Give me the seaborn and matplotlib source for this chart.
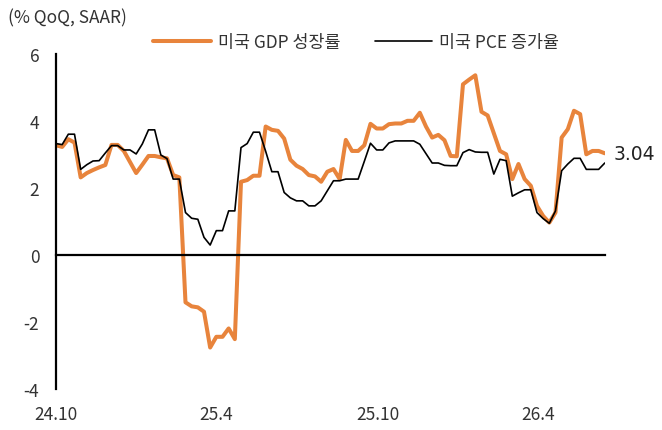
import pandas as pd
import seaborn as sns
import matplotlib.pyplot as plt
import matplotlib.dates as mdates

# 주간 관측치, 2024-10-01 부터 매주
start_date = "2024-10-01"
gdp_growth = [3.28, 3.23, 3.46, 3.36, 2.32, 2.45, 2.54, 2.62, 2.69, 3.29,
              3.29, 3.11, 2.78, 2.45, 2.70, 2.96, 2.96, 2.92, 2.89, 2.39,
              2.32, -1.41, -1.53, -1.56, -1.69, -2.76, -2.44, -2.44, -2.19, -2.51,
              2.19, 2.24, 2.37, 2.37, 3.84, 3.74, 3.71, 3.48, 2.85, 2.67,
              2.57, 2.39, 2.35, 2.19, 2.49, 2.57, 2.27, 3.44, 3.11, 3.11,
              3.28, 3.92, 3.78, 3.78, 3.91, 3.93, 3.93, 4.01, 4.01, 4.25,
              3.84, 3.51, 3.59, 3.43, 2.96, 2.95, 5.10, 5.24, 5.37, 4.28,
              4.17, 3.64, 3.11, 3.01, 2.27, 2.72, 2.27, 2.07, 1.47, 1.17,
              0.97, 1.27, 3.51, 3.76, 4.31, 4.21, 3.01, 3.11, 3.11, 3.04]
pce_growth = [3.33, 3.30, 3.61, 3.61, 2.56, 2.70, 2.81, 2.82, 3.05, 3.27,
              3.27, 3.14, 3.14, 3.02, 3.32, 3.74, 3.74, 2.99, 2.88, 2.27,
              2.27, 1.27, 1.10, 1.07, 0.53, 0.30, 0.73, 0.73, 1.32, 1.32,
              3.21, 3.33, 3.67, 3.67, 3.10, 2.49, 2.49, 1.87, 1.71, 1.62,
              1.62, 1.47, 1.47, 1.62, 1.92, 2.22, 2.22, 2.27, 2.27, 2.27,
              2.80, 3.34, 3.14, 3.14, 3.35, 3.41, 3.41, 3.41, 3.41, 3.31,
              3.03, 2.75, 2.75, 2.68, 2.67, 2.67, 3.06, 3.15, 3.08, 3.07,
              3.07, 2.42, 2.86, 2.82, 1.76, 1.86, 1.95, 1.95, 1.27, 1.09,
              0.95, 1.32, 2.52, 2.72, 2.89, 2.89, 2.56, 2.56, 2.56, 2.75]
series_names = ["미국 GDP 성장률", "미국 PCE 증가율"]
x_tick_dates = ["2024-10-01", "2025-04-01", "2025-10-01", "2026-04-01"]
x_tick_labels = ["24.10", "25.4", "25.10", "26.4"]
y_ticks = [-4, -2, 0, 2, 4, 6]

dates = pd.date_range(start_date, periods=len(gdp_growth), freq="7D")
df = pd.DataFrame({"date": dates, series_names[0]: gdp_growth, series_names[1]: pce_growth})

sns.set_style("white")
plt.rcParams["font.family"] = ["Noto Sans CJK KR", "DejaVu Sans"]
plt.rcParams["axes.unicode_minus"] = False
text_color = "#333333"
fs = 12.5

fig = plt.figure(figsize=(6.62, 4.31), dpi=100)
ax = fig.add_axes([0.0846, 0.095, 0.829, 0.777])

sns.lineplot(data=df, x="date", y=series_names[0], ax=ax, color="#E8843C",
             linewidth=2.9, label=series_names[0])
sns.lineplot(data=df, x="date", y=series_names[1], ax=ax, color="black",
             linewidth=1.2, label=series_names[1])

ax.set_ylim(-4, 6)
ax.set_xlim(dates[0], dates[-1])
ax.set_xlabel("")
ax.set_ylabel("")

# 축 스타일
for side in ["top", "right"]:
    ax.spines[side].set_visible(False)
ax.spines["bottom"].set_position(("data", 0))
ax.spines["bottom"].set_linewidth(1.6)
ax.spines["left"].set_linewidth(1.6)
ax.spines["bottom"].set_color("black")
ax.spines["left"].set_color("black")

tick_pos = pd.to_datetime(x_tick_dates)
ax.set_xticks(tick_pos)
ax.tick_params(axis="x", direction="in", length=5, width=1.5, labelbottom=False)
ax.set_yticks(y_ticks)
ax.tick_params(axis="y", direction="in", length=5, width=1.5, pad=12,
               labelsize=fs, labelcolor=text_color)

for d, lab in zip(tick_pos, x_tick_labels):
    ax.text(mdates.date2num(d), -0.075, lab, transform=ax.get_xaxis_transform(),
            ha="center", va="center", fontsize=fs, color=text_color)

ax.legend(loc="center", bbox_to_anchor=(0.538, 0.9), bbox_transform=fig.transFigure,
          ncol=2, frameon=False, handlelength=3.3, columnspacing=2.0,
          handletextpad=0.4, fontsize=fs, labelcolor=text_color)

fig.text(0.012, 0.958, "(% QoQ, SAAR)", fontsize=fs, va="center", color=text_color)

ax.annotate(f"{gdp_growth[-1]:.2f}", xy=(dates[-1], gdp_growth[-1]), xytext=(6, 0),
            textcoords="offset points", ha="left", va="center", fontsize=13.5,
            family="DejaVu Sans", color="#222222", annotation_clip=False)

fig.savefig("out.png", dpi=100)
